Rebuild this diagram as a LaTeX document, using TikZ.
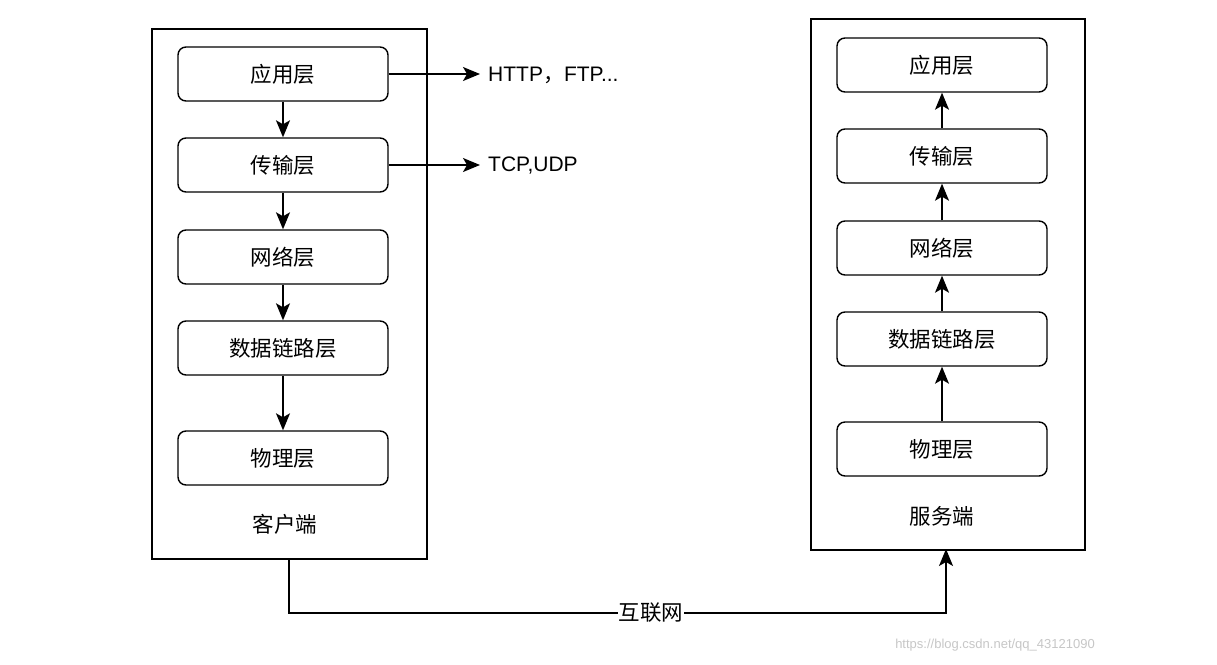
\documentclass[tikz,border=0pt]{standalone}
\usepackage{fontspec}
\setmainfont{Liberation Sans}
\newfontfamily\cjk{Noto Sans CJK SC}
\usetikzlibrary{arrows.meta}
\begin{document}
\begin{tikzpicture}[x=1pt,y=-1pt,
  outerbox/.style={draw, line width=1.6pt, anchor=north west, inner sep=0pt},
  layer/.style={draw, line width=1.4pt, rounded corners=8pt, minimum width=210pt, minimum height=54pt, inner sep=0pt, font=\cjk\fontsize{21.5}{25}\selectfont},
  lbl/.style={font=\cjk\fontsize{21.5}{25}\selectfont, inner sep=1pt},
  arr/.style={line width=1.4pt, -{Stealth[length=17pt,width=14pt,inset=4pt]}},
  ln/.style={line width=1.4pt},
  txt/.style={font=\fontsize{21}{25}\selectfont, anchor=west, inner sep=0pt}]
\useasboundingbox[fill=white] (0,0) rectangle (1217,664);

% client
\node[outerbox, minimum width=275pt, minimum height=530pt] (client) at (151,28) {};
\node[layer] (ca) at (283,74) {应用层};
\node[layer] (ct) at (283,165) {传输层};
\node[layer] (cn) at (283,257) {网络层};
\node[layer] (cd) at (283,348) {数据链路层};
\node[layer] (cp) at (283,458) {物理层};
\node[lbl] (cl) at (285,524) {客户端};
\draw[arr] (ca) -- (ct);
\draw[arr] (ct) -- (cn);
\draw[arr] (cn) -- (cd);
\draw[arr] (cd) -- (cp);

\node[txt] (http) at (488,75) {HTTP{\cjk ，}FTP...};
\node[txt] (tcp) at (488,166) {TCP,UDP};
\coordinate (hend) at (480,74);
\coordinate (tend) at (480,165);
\draw[arr] (ca.east) -- (hend);
\draw[arr] (ct.east) -- (tend);

% server
\node[outerbox, minimum width=274pt, minimum height=531pt] (server) at (810,18) {};
\node[layer] (sa) at (942,65) {应用层};
\node[layer] (st) at (942,156) {传输层};
\node[layer] (sn) at (942,248) {网络层};
\node[layer] (sd) at (942,339) {数据链路层};
\node[layer] (sp) at (942,449) {物理层};
\node[lbl] (sl) at (942,516) {服务端};
\draw[arr] (st) -- (sa);
\draw[arr] (sn) -- (st);
\draw[arr] (sd) -- (sn);
\draw[arr] (sp) -- (sd);

% internet link
\coordinate (c1) at (289,558);
\coordinate (c2) at (289,613);
\coordinate (c3) at (946,613);
\coordinate (c4) at (946,549);
\node[lbl, fill=white, inner sep=1pt] (net) at (651,613) {互联网};
\draw[ln] (c1) -- (c2) -- (net.west);
\draw[arr] (net.east) -- (c3) -- (c4);

% watermark
\node[font=\fontsize{13}{15}\selectfont, text=black!22, inner sep=0pt] (wm) at (995,645) {https://blog.csdn.net/qq\_43121090};
\end{tikzpicture}
\end{document}
